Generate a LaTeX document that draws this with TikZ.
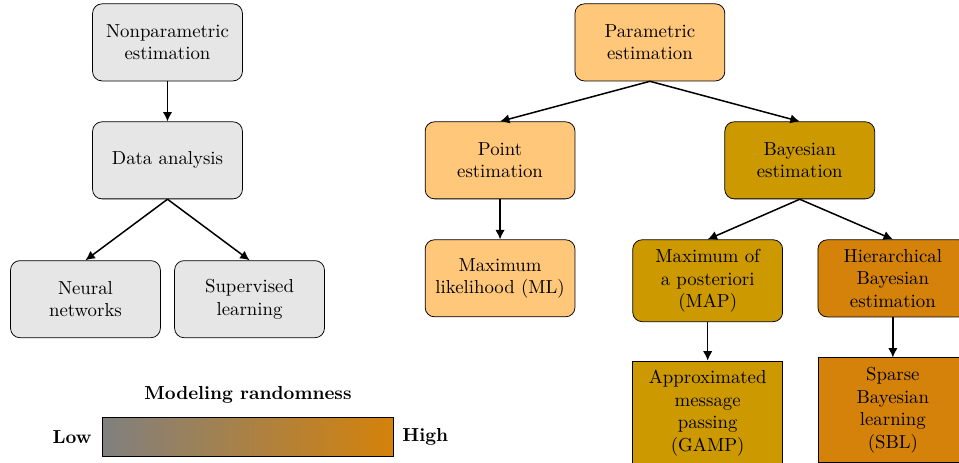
\documentclass[tikz,border=0pt]{standalone}
\usepackage{tikz}
\usetikzlibrary{arrows.meta,positioning,calc}
\usepackage{xcolor}
\definecolor{rand-grey-light}{HTML}{E6E6E6}
\definecolor{rand-grey-dark}{HTML}{808080}
\definecolor{rand-orange-light}{HTML}{FFC77A}
\definecolor{rand-gold}{HTML}{CC9900}
\definecolor{rand-orange-dark}{HTML}{D4820A}

\begin{document}
\begin{tikzpicture}[>={Latex[length=5pt,width=5pt]}, node distance=0.75cm]
  \tikzstyle{box}=[draw, rounded corners=5pt, align=center, text width=2.55cm,
                   minimum width=2.8cm, minimum height=1.44cm, inner ysep=5pt]
  \tikzstyle{sqbox}=[box, sharp corners]

  %% Nonparametric
  \node[box, fill=rand-grey-light] (nonpar)                                 {Nonparametric\\estimation};
  \node[box, fill=rand-grey-light] (data)   [below=of nonpar]               {Data analysis};
  \node[box, fill=rand-grey-light] (neural) [below=1.14cm of data, xshift=-1.533cm] {Neural\\networks};
  \node[box, fill=rand-grey-light] (sup)    [below=1.14cm of data, xshift=1.533cm]  {Supervised\\learning};

  %% Parametric
  \node[box, fill=rand-orange-light] (param) [right=6.2cm of nonpar]        {Parametric\\estimation};
  \node[box, fill=rand-orange-light] (point) [below=of param, xshift=-2.8cm] {Point\\estimation};
  \node[box, fill=rand-gold]         (bayes) [below=of param, xshift=2.8cm]  {Bayesian\\estimation};
  \node[box, fill=rand-orange-light] (ml)    [below=of point]               {Maximum\\likelihood (ML)};
  \node[box, fill=rand-gold]         (map)   [below=of bayes, xshift=-1.72cm] {Maximum of\\a posteriori\\(MAP)};
  \node[box, fill=rand-orange-dark]  (hier)  [below=of bayes, xshift=1.74cm] {Hierarchical\\Bayesian\\estimation};
  \node[sqbox, fill=rand-gold]       (gamp)  [below=0.72cm of map]          {Approximated\\message\\passing\\(GAMP)};
  \node[sqbox, fill=rand-orange-dark] (sbl)  [below=of hier]                {Sparse\\Bayesian\\learning\\(SBL)};

  %% Randomness scale
  \node[draw, inner sep=0pt, minimum width=5.44cm, minimum height=0.73cm,
        left color=rand-grey-dark, right color=rand-orange-dark]
        (bar) [below=1.48cm of sup, xshift=-0.03cm] {};
  \node[font=\bfseries] (scale) [above=4pt of bar] {Modeling randomness};
  \node[font=\bfseries] (low)   [left=2pt of bar]  {Low};
  \node[font=\bfseries] (high)  [right=1pt of bar] {High};

  %% Nonparametric links
  \path[->, thick]
    (nonpar.south) edge (data.north)
    (data.south)   edge (neural.north)
    (data.south)   edge (sup.north);

  %% Parametric links
  \path[->, thick]
    (param.south) edge (point.north)
    (param.south) edge (bayes.north)
    (point.south) edge (ml.north)
    (bayes.south) edge (map.north)
    (bayes.south) edge (hier.north)
    (map.south)   edge (gamp.north)
    (hier.south)  edge (sbl.north);

  %% Crop
  \pgfresetboundingbox
  \useasboundingbox let \p1=(neural.west), \p2=(nonpar.north) in
    (\x1-0.19cm, \y2+0.065cm) rectangle ++(17.92cm,-8.65cm);
\end{tikzpicture}
\end{document}
